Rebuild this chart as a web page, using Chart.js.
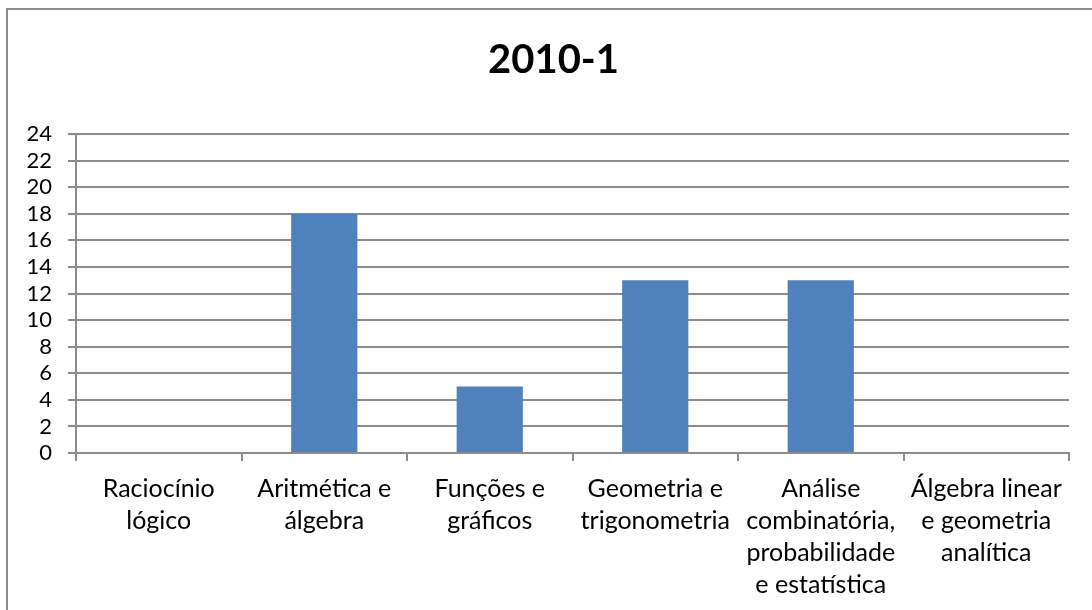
<!DOCTYPE html>
<html>
<head>
<meta charset="utf-8">
<script src="https://cdn.jsdelivr.net/npm/chart.js@4"></script>
<style>
  html, body { margin: 0; padding: 0; background: #fff; overflow: hidden; }
  #frame {
    position: absolute; left: 6px; top: 8px;
    width: 1095px; height: 610px;
    border: 2px solid #8c8c8c; border-right: none; border-bottom: none;
    background: #fff;
  }
  canvas { display: block; }
</style>
</head>
<body>
<div id="frame"><canvas id="c" width="1095" height="610"></canvas></div>
<script>
// Topics of the 2010-1 exam and number of questions in each
const categories = [
  ['Raciocínio', 'lógico'],
  ['Aritmética e', 'álgebra'],
  ['Funções e', 'gráficos'],
  ['Geometria e', 'trigonometria'],
  ['Análise', 'combinatória,', 'probabilidade', 'e estatística'],
  ['Álgebra linear', 'e geometria', 'analítica']
];
const questionCounts = [0, 18, 5, 13, 13, 0];
const chartTitle = '2010-1';
const yMin = 0, yMax = 24, yStep = 2;

const gridGray = '#8c8c8c';
const fontFamily = 'Lato, "Open Sans", sans-serif';

// Centre the title over the whole frame rather than over the canvas minus the right margin
const titleShift = {
  id: 'titleShift',
  afterLayout(chart) {
    if (chart.titleBlock) chart.titleBlock.left += 30;
  }
};

new Chart(document.getElementById('c'), {
  type: 'bar',
  data: {
    labels: categories,
    datasets: [{
      data: questionCounts,
      backgroundColor: '#4f81bd',
      borderWidth: 0,
      categoryPercentage: 1.0,
      barPercentage: 0.4
    }]
  },
  plugins: [titleShift],
  options: {
    responsive: false,
    animation: false,
    devicePixelRatio: 1,
    layout: { padding: { left: 0, right: 34, top: 0, bottom: 0 } },
    plugins: {
      legend: { display: false },
      tooltip: { enabled: false },
      title: {
        display: true,
        text: chartTitle,
        color: '#000',
        font: { family: fontFamily, size: 40, weight: 'bold', lineHeight: 1.2 },
        padding: { top: 26, bottom: 50 }
      }
    },
    scales: {
      x: {
        grid: {
          offset: true,
          drawOnChartArea: false,
          drawTicks: true,
          tickLength: 8,
          color: gridGray,
          lineWidth: 2
        },
        border: { display: true, color: gridGray, width: 2 },
        ticks: {
          color: '#000',
          padding: 12,
          maxRotation: 0,
          autoSkip: false,
          font: { family: fontFamily, size: 25, lineHeight: 1.28 }
        },
        afterFit: (s) => { s.height = 610 - 443; }
      },
      y: {
        min: yMin,
        max: yMax,
        grid: {
          color: gridGray,
          lineWidth: 2,
          drawTicks: true,
          tickLength: 8
        },
        border: { display: true, color: gridGray, width: 2 },
        ticks: {
          stepSize: yStep,
          autoSkip: false,
          color: '#000',
          padding: 16,
          font: { family: fontFamily, size: 22, lineHeight: 1.0 }
        },
        afterFit: (s) => { s.width = 68; }
      }
    }
  }
});
</script>
</body>
</html>
